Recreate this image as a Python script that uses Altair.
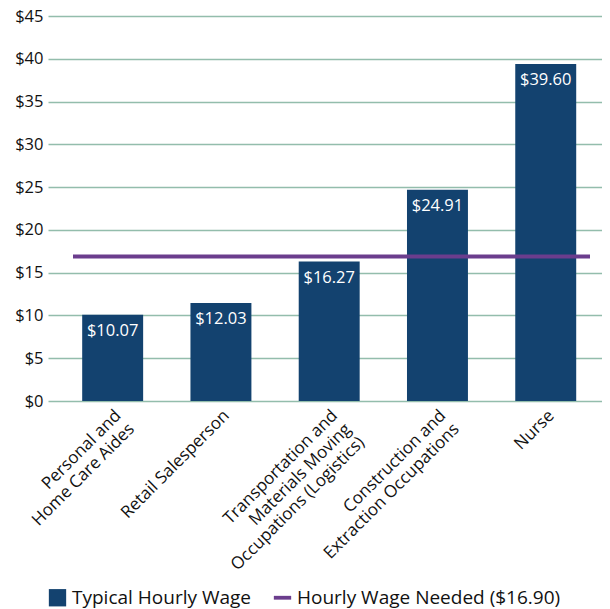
import altair as alt
import pandas as pd

occupations = [
    "Personal and|Home Care Aides",
    "Retail Salesperson",
    "Transportation and|Materials Moving|Occupations (Logistics)",
    "Construction and|Extraction Occupations",
    "Nurse",
]
bar_heights = [10.07, 11.45, 16.3, 24.7, 39.4]
wage_labels = ["$10.07", "$12.03", "$16.27", "$24.91", "$39.60"]
needed_wage = 16.90
series_names = ["Typical Hourly Wage", "Hourly Wage Needed ($16.90)"]
y_ticks = [0, 5, 10, 15, 20, 25, 30, 35, 40, 45]

NAVY = "#13426f"
PURPLE = "#6b3d8d"
GRID = "#93bdac"
FONT = "Open Sans"

df = pd.DataFrame({
    "occ": occupations,
    "wage": bar_heights,
    "label": wage_labels,
    "series": series_names[0],
})
df_need = pd.DataFrame({"need": [needed_wage], "series": [series_names[1]]})
df_leg = pd.DataFrame({"series": series_names, "occ": [occupations[0]] * 2, "wage": [0, 0]})

color_scale = alt.Scale(domain=series_names, range=[NAVY, PURPLE])
shape_scale = alt.Scale(domain=series_names, range=["square", "M-1,-0.22H1V0.22H-1Z"])

x = alt.X(
    "occ:N",
    sort=occupations,
    title=None,
    scale=alt.Scale(paddingInner=0.437, paddingOuter=0.277, align=0.57),
    axis=alt.Axis(
        labelAngle=-45,
        labelAlign="right",
        labelBaseline="top",
        labelExpr="split(datum.label, '|')",
        labelFontSize=17,
        labelFont=FONT,
        labelColor="#111111",
        labelLineHeight=19,
        labelPadding=6,
        ticks=False,
        domain=False,
        grid=False,
        labelLimit=300,
    ),
)

y_scale = alt.Scale(domain=[0, 45])

bars = alt.Chart(df).mark_bar(color=NAVY).encode(
    x=x,
    y=alt.Y(
        "wage:Q",
        scale=y_scale,
        title=None,
        axis=alt.Axis(
            values=y_ticks,
            labelExpr="'$' + datum.value",
            labelFontSize=16.5,
            labelFont=FONT,
            labelColor="#111111",
            grid=True,
            gridColor=GRID,
            gridWidth=1.5,
            ticks=False,
            domain=False,
            labelPadding=5,
        ),
    ),
)

text = alt.Chart(df).mark_text(
    color="white", baseline="top", dy=8, fontSize=16.5, font=FONT
).encode(
    x=alt.X("occ:N", sort=occupations),
    y=alt.Y("wage:Q", scale=y_scale),
    text="label:N",
)

rule = alt.Chart(df_need).mark_rule(strokeWidth=4, color=PURPLE).encode(
    y=alt.Y("need:Q", scale=y_scale),
    x=alt.value(25),
    x2=alt.value(542),
)

legend_layer = alt.Chart(df_leg).mark_point(filled=True, opacity=1).encode(
    x=alt.X("occ:N", sort=occupations),
    y=alt.Y("wage:Q", scale=y_scale),
    color=alt.Color("series:N", scale=color_scale, title=None, legend=alt.Legend(
        orient="bottom",
        direction="horizontal",
        labelFontSize=19,
        labelFont=FONT,
        labelColor="#111111",
        symbolSize=300,
        symbolStrokeWidth=0,
        columnPadding=22,
        labelOffset=5,
        labelLimit=400,
        offset=15,
    )),
    shape=alt.Shape("series:N", scale=shape_scale, title=None),
).transform_filter("false")

chart = alt.layer(legend_layer, bars, text, rule).properties(
    width=554,
    height=385,
    padding={"left": 40, "top": 8, "right": 0, "bottom": 208},
    autosize=alt.AutoSizeParams(type="none"),
).configure_view(stroke=None)

chart.save("out.html", embed_options={"renderer": "svg", "actions": False})
